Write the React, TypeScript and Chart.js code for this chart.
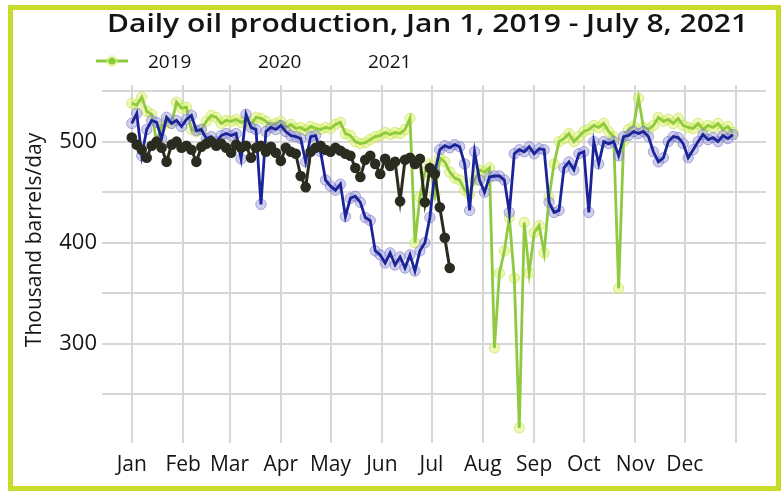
import { useEffect, useRef } from 'react';
import { Chart, registerables } from 'chart.js';

Chart.register(...registerables);

const titleText = 'Daily oil production, Jan 1, 2019 - July 8, 2021';
const yAxisTitle = 'Thousand barrels/day';
const seriesNames = ['2019', '2020', '2021'];
const monthLabels = ['Jan', 'Feb', 'Mar', 'Apr', 'May', 'Jun', 'Jul', 'Aug', 'Sep', 'Oct', 'Nov', 'Dec', ''];
const monthStartDays = [0, 31, 59, 90, 120, 151, 181, 212, 243, 273, 304, 334, 365];
const yTickValues = [250, 300, 350, 400, 450, 500, 550];
const sampleStepDays = 3;

const prod2019 = [
  538, 536, 544, 530, 527, 500, 515, 520, 518, 539, 533, 534, 512, 510, 512, 520, 526, 524, 518, 521,
  520, 522, 519, 521, 517, 524, 523, 520, 516, 518, 520, 514, 517, 513, 514, 511, 515, 513, 512, 514,
  513, 517, 519, 508, 506, 500, 498, 499, 502, 505, 506, 509, 507, 509, 508, 512, 523, 400, 445, 470,
  478, 448, 484, 480, 470, 464, 462, 452, 448, 462, 472, 470, 474, 296, 370, 392, 425, 365, 217, 420,
  370, 410, 417, 390, 445, 478, 500, 503, 508, 500, 505, 510, 512, 516, 514, 518, 510, 505, 355, 500,
  512, 515, 543, 514, 512, 516, 524, 520, 522, 518, 523, 516, 514, 513, 518, 512, 516, 514, 518, 512,
  515, 509,
];

const prod2020 = [
  518, 528, 486, 512, 521, 519, 503, 524, 518, 521, 515, 522, 526, 511, 512, 503, 505, 500, 506, 508,
  506, 508, 483, 527, 514, 512, 438, 510, 514, 512, 516, 510, 506, 505, 503, 480, 505, 506, 490, 462,
  456, 452, 458, 426, 444, 446, 440, 425, 422, 392, 388, 380, 390, 378, 386, 375, 388, 372, 392, 400,
  425, 470, 492, 496, 494, 497, 495, 478, 432, 490, 462, 450, 465, 466, 466, 462, 430, 488, 492, 490,
  495, 488, 493, 492, 440, 430, 432, 474, 480, 472, 488, 490, 430, 500, 478, 500, 498, 500, 486, 505,
  506, 510, 508, 510, 505, 490, 480, 484, 500, 505, 504, 498, 484, 492, 500, 507, 502, 504, 500, 506,
  503, 507,
];

const prod2021 = [
  504, 497, 492, 484, 496, 500, 494, 480, 497, 500, 494, 496, 492, 480, 495, 498, 500, 496, 498, 494,
  489, 497, 494, 496, 484, 494, 496, 490, 495, 489, 481, 494, 490, 488, 466, 455, 490, 494, 496, 492,
  490, 494, 491, 488, 486, 474, 465, 482, 486, 478, 468, 483, 476, 480, 441, 482, 484, 478, 483, 440,
  474, 468, 435, 405, 375,
];

const colors = {
  g19: '#8fc93f',
  g19Halo: 'rgba(222,242,120,0.55)',
  g19HaloEdge: 'rgba(200,228,90,0.7)',
  b20: '#1b2399',
  b20Halo: 'rgba(150,150,215,0.45)',
  b20HaloEdge: 'rgba(120,120,200,0.6)',
  k21: '#2b2c20',
  grid: '#d7d7d7',
  text: '#141414',
  frame: '#c9dc2b',
};

const FONT = '"Open Sans", "Noto Sans", sans-serif';

const toPoints = (vals: number[]) => vals.map((v, i) => ({ x: i * sampleStepDays, y: v }));

const overlayPlugin = {
  id: 'overlayText',
  afterDraw(chart: any) {
    const ctx: CanvasRenderingContext2D = chart.ctx;
    ctx.save();
    // Title
    ctx.fillStyle = colors.text;
    ctx.font = `600 25px ${FONT}`;
    ctx.textBaseline = 'alphabetic';
    ctx.textAlign = 'left';
    const w = ctx.measureText(titleText).width;
    const sx = Math.max(0.8, Math.min(1.2, 645 / w));
    ctx.save();
    ctx.translate(107, 32);
    ctx.scale(sx, 1);
    ctx.fillText(titleText, 0, 0);
    ctx.restore();

    // Legend
    ctx.strokeStyle = colors.g19;
    ctx.lineWidth = 3;
    ctx.beginPath();
    ctx.moveTo(96, 61);
    ctx.lineTo(128, 61);
    ctx.stroke();
    ctx.fillStyle = colors.g19Halo;
    ctx.beginPath();
    ctx.arc(112, 61, 6, 0, Math.PI * 2);
    ctx.fill();
    ctx.fillStyle = colors.g19;
    ctx.beginPath();
    ctx.arc(112, 61, 3.5, 0, Math.PI * 2);
    ctx.fill();
    ctx.fillStyle = colors.text;
    ctx.font = `19px ${FONT}`;
    const legendX = [148, 258, 368];
    seriesNames.forEach((n, i) => ctx.fillText(n, legendX[i], 68));

    // Y axis title
    ctx.save();
    ctx.translate(35, 240);
    ctx.rotate(-Math.PI / 2);
    ctx.textAlign = 'center';
    ctx.textBaseline = 'middle';
    ctx.font = `21px ${FONT}`;
    ctx.fillText(yAxisTitle, 0, 0);
    ctx.restore();
    ctx.restore();
  },
};

export default function App() {
  const ref = useRef<HTMLCanvasElement | null>(null);
  useEffect(() => {
    if (!ref.current) return;
    const chart = new Chart(ref.current, {
      type: 'line',
      data: {
        datasets: [
          {
            label: '2019 halo',
            data: toPoints(prod2019),
            showLine: false,
            pointRadius: 5.2,
            pointBorderWidth: 1,
            pointBackgroundColor: colors.g19Halo,
            pointBorderColor: colors.g19HaloEdge,
            order: 6,
          },
          {
            label: seriesNames[0],
            data: toPoints(prod2019),
            borderColor: colors.g19,
            borderWidth: 2.8,
            pointRadius: 0,
            tension: 0,
            order: 5,
          },
          {
            label: '2020 halo',
            data: toPoints(prod2020),
            showLine: false,
            pointRadius: 5.2,
            pointBorderWidth: 1,
            pointBackgroundColor: colors.b20Halo,
            pointBorderColor: colors.b20HaloEdge,
            order: 4,
          },
          {
            label: seriesNames[1],
            data: toPoints(prod2020),
            borderColor: colors.b20,
            borderWidth: 2.8,
            pointRadius: 0,
            tension: 0,
            order: 3,
          },
          {
            label: seriesNames[2],
            data: toPoints(prod2021),
            borderColor: colors.k21,
            borderWidth: 3,
            pointRadius: 5.3,
            pointBorderWidth: 0,
            pointBackgroundColor: colors.k21,
            tension: 0,
            order: 1,
          },
        ],
      },
      options: {
        responsive: false,
        animation: false,
        events: [],
        layout: { padding: { left: 0, right: 18, top: 85, bottom: 8 } },
        plugins: {
          legend: { display: false },
          title: { display: false },
          tooltip: { enabled: false },
        },
        scales: {
          x: {
            type: 'linear',
            min: -18,
            max: 383,
            afterBuildTicks: (scale: any) => {
              scale.ticks = monthStartDays.map((v) => ({ value: v }));
            },
            afterFit: (scale: any) => {
              scale.height = 40;
            },
            ticks: {
              autoSkip: false,
              maxRotation: 0,
              padding: 9,
              color: colors.text,
              font: { family: FONT, size: 21 },
              callback: (v: any) => {
                const idx = monthStartDays.indexOf(Number(v));
                return idx >= 0 ? monthLabels[idx] : '';
              },
            },
            grid: { color: colors.grid, lineWidth: 2, drawTicks: false },
            border: { display: false },
          },
          y: {
            type: 'linear',
            min: 202,
            max: 556,
            afterBuildTicks: (scale: any) => {
              scale.ticks = yTickValues.map((v) => ({ value: v }));
            },
            afterFit: (scale: any) => {
              scale.width = 102;
            },
            ticks: {
              padding: 5,
              color: colors.text,
              font: { family: FONT, size: 22 },
              callback: (v: any) => (Number(v) % 100 === 0 ? String(v) : ''),
            },
            grid: { color: colors.grid, lineWidth: 2, drawTicks: false },
            border: { display: false },
          },
        },
      },
      plugins: [overlayPlugin],
    });
    return () => chart.destroy();
  }, []);

  return (
    <div style={{ position: 'fixed', left: 0, top: 0, width: 784, height: 491, background: '#fff' }}>
      <canvas ref={ref} width={784} height={491} style={{ position: 'absolute', left: 0, top: 0 }} />
      <div
        style={{
          position: 'absolute',
          left: 8,
          top: 5,
          width: 773,
          height: 486,
          border: `5px solid ${colors.frame}`,
          boxSizing: 'border-box',
          pointerEvents: 'none',
        }}
      />
    </div>
  );
}
